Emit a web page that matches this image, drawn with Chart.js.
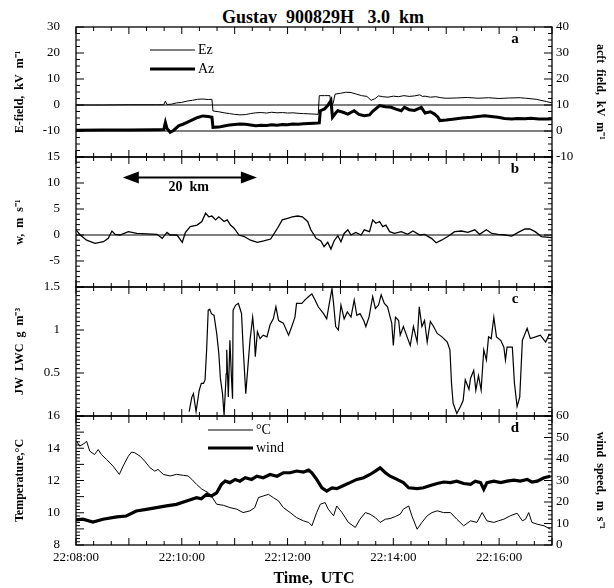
<!DOCTYPE html>
<html>
<head>
<meta charset="utf-8">
<script src="https://cdn.jsdelivr.net/npm/chart.js"></script>
<style>
  html, body { margin: 0; padding: 0; background: #fff; }
  #page { position: relative; width: 614px; height: 588px; overflow: hidden; background: #fff; }
  .panel { position: absolute; left: 0; width: 614px; }
  #title {
    position: absolute; left: 0; top: 7px; width: 646px; text-align: center;
    font: bold 18px "Liberation Serif", serif; white-space: pre; line-height: 20px;
  }
</style>
</head>
<body>
<div id="page">
  <div id="title">Gustav  900829H   3.0  km</div>
  <div class="panel" style="top:0;height:181px"><canvas id="cA"></canvas></div>
  <div class="panel" style="top:133px;height:178px"><canvas id="cB"></canvas></div>
  <div class="panel" style="top:263px;height:177px"><canvas id="cC"></canvas></div>
  <div class="panel" style="top:392px;height:196px"><canvas id="cD"></canvas></div>
</div>
<script>
// time is in minutes after 22:08:00 UTC
const timeTicks = [0, 2, 4, 6, 8];

// panel a: vertical field (left axis) and aircraft field (right axis), kV/m
const ezSeries = [[0,0],[0.5,0],[1.0,0.1],[1.5,0.1],[1.66,0.1],[1.69,1.5],[1.72,0.2],[1.8,0.3],[1.9,0.8],[2.0,1.0],
  [2.1,1.5],[2.2,1.8],[2.3,2.2],[2.4,2.3],[2.5,2.1],[2.57,2.2],[2.59,-2.3],[2.7,-2.6],[2.8,-3.0],[2.9,-3.3],
  [3.0,-3.6],[3.1,-3.8],[3.2,-3.7],[3.3,-3.3],[3.4,-3.0],[3.5,-2.9],[3.6,-3.1],[3.7,-2.8],[3.8,-3.0],[3.9,-2.9],
  [4.0,-3.1],[4.1,-3.0],[4.2,-3.2],[4.3,-3.3],[4.4,-3.4],[4.5,-3.5],[4.58,-3.6],[4.6,3.6],[4.7,3.6],[4.8,3.6],
  [4.82,0.2],[4.86,0.5],[4.9,4.2],[5.0,4.5],[5.1,4.9],[5.2,4.8],[5.3,4.2],[5.4,3.6],[5.5,3.3],[5.58,1.8],
  [5.65,2.4],[5.72,3.5],[5.8,3.2],[5.9,3.0],[6.0,3.4],[6.1,3.2],[6.2,3.6],[6.3,3.3],[6.4,3.5],[6.5,3.9],
  [6.55,3.3],[6.6,3.4],[6.7,3.0],[6.8,3.2],[6.9,2.8],[7.0,2.6],[7.2,2.7],[7.4,2.9],[7.6,2.6],[7.8,2.8],
  [8.0,2.5],[8.2,2.7],[8.4,2.8],[8.5,2.6],[8.7,2.2],[8.9,1.3],[9.0,0.8]];
const azSeries = [[0,0.3],[0.5,0.4],[1.0,0.4],[1.5,0.5],[1.66,0.6],[1.69,3.3],[1.72,1.0],[1.78,-0.5],[1.85,0.3],[1.94,2.0],
  [2.02,2.6],[2.1,3.3],[2.2,4.3],[2.3,5.2],[2.4,5.8],[2.5,5.6],[2.57,5.3],[2.59,1.4],[2.7,1.5],[2.8,1.9],
  [2.9,2.3],[3.0,2.5],[3.1,2.7],[3.2,2.6],[3.3,2.3],[3.4,2.0],[3.5,2.2],[3.6,2.1],[3.7,2.4],[3.8,2.2],
  [3.9,2.5],[4.0,2.4],[4.1,2.7],[4.2,2.6],[4.3,2.8],[4.4,2.9],[4.5,3.0],[4.6,3.1],[4.62,7.8],[4.7,8.5],
  [4.76,9.8],[4.82,11.7],[4.85,5.3],[4.91,6.9],[4.95,7.8],[5.05,7.2],[5.14,6.5],[5.26,7.8],[5.35,6.4],[5.45,5.9],
  [5.55,6.2],[5.61,7.6],[5.74,9.8],[5.85,9.3],[5.96,9.1],[6.05,8.4],[6.15,7.8],[6.21,9.1],[6.3,8.2],[6.4,7.9],
  [6.53,9.1],[6.6,6.9],[6.7,7.4],[6.78,6.5],[6.84,5.4],[6.88,4.0],[7.0,4.2],[7.16,4.6],[7.3,5.0],[7.48,5.3],
  [7.6,5.6],[7.73,5.9],[7.85,5.6],[7.98,5.25],[8.1,4.8],[8.24,4.6],[8.35,4.8],[8.49,4.7],[8.6,4.9],[8.75,4.6],
  [8.93,4.6],[9.0,4.7]];

// panel b: vertical wind w, m/s
const wSeries = [[0,1.0],[0.08,0],[0.20,-1.0],[0.36,-1.6],[0.52,-1.3],[0.61,-0.64],[0.68,0.77],[0.74,0.13],[0.83,0],[0.99,0.64],
  [1.15,0.3],[1.34,0.2],[1.53,0.13],[1.63,-0.64],[1.72,0.5],[1.78,0],[1.91,0],[2.01,-1.4],[2.07,0.5],[2.16,1.6],
  [2.29,1.9],[2.38,2.6],[2.45,4.2],[2.51,3.5],[2.57,3.65],[2.64,2.9],[2.70,3.5],[2.80,2.6],[2.86,2.9],[2.92,1.9],
  [2.99,1.3],[3.08,0],[3.18,-0.3],[3.30,-1.0],[3.43,-1.4],[3.55,-1.15],[3.68,-0.77],[3.81,1.3],[3.90,2.9],[4.00,3.2],
  [4.09,3.5],[4.19,3.65],[4.28,3.5],[4.38,2.6],[4.44,1.0],[4.54,-0.64],[4.63,-1.15],[4.69,-2.24],[4.76,-1.4],[4.82,-2.7],
  [4.88,-1.15],[4.95,-0.13],[5.01,-1.3],[5.07,0.3],[5.14,1.0],[5.20,0],[5.29,0.5],[5.39,0],[5.45,1.0],[5.55,0.64],
  [5.61,2.9],[5.67,2.25],[5.74,2.6],[5.80,1.6],[5.86,1.9],[5.93,0.64],[6.02,0.3],[6.15,0.64],[6.27,0.13],[6.37,0.77],
  [6.50,0],[6.59,0.13],[6.72,-0.64],[6.81,-1.5],[6.91,-1.0],[7.03,-0.3],[7.16,0.64],[7.29,0.77],[7.41,0.5],[7.54,1.0],
  [7.63,0.13],[7.76,1.0],[7.86,0.3],[7.98,0.13],[8.11,0],[8.24,-0.2],[8.36,0.5],[8.49,1.15],[8.58,1.15],[8.68,0.64],
  [8.80,-0.3],[9.0,-0.5]];

// panel c: Johnson-Williams liquid water content, g/m3
const lwcSeries = [[2.14,0.05],[2.19,0.22],[2.22,0.26],[2.27,0.05],[2.33,0.30],[2.37,0.38],[2.41,0.38],[2.44,0.42],[2.47,0.77],[2.50,1.23],
  [2.53,1.24],[2.56,1.19],[2.61,1.17],[2.66,0.96],[2.70,0.73],[2.73,0.44],[2.77,0.26],[2.80,0.01],[2.84,0.49],[2.85,0.77],
  [2.88,0.22],[2.91,0.88],[2.94,0.44],[2.96,0.20],[2.97,1.23],[3.02,1.29],[3.07,1.31],[3.10,1.25],[3.13,1.19],[3.16,0.80],
  [3.21,0.26],[3.26,0.65],[3.29,0.88],[3.34,1.15],[3.37,0.96],[3.39,0.69],[3.43,0.98],[3.48,0.90],[3.54,0.94],[3.61,0.92],
  [3.67,1.06],[3.73,1.13],[3.78,1.27],[3.83,1.11],[3.92,1.08],[4.02,0.94],[4.08,1.04],[4.14,1.15],[4.17,1.31],[4.27,1.31],
  [4.33,1.35],[4.40,1.39],[4.46,1.42],[4.52,1.35],[4.58,1.27],[4.68,1.19],[4.74,1.13],[4.79,1.31],[4.84,1.48],[4.87,1.31],
  [4.91,1.04],[4.96,1.0],[5.01,1.29],[5.07,1.13],[5.13,1.21],[5.20,1.15],[5.26,1.35],[5.31,1.17],[5.37,1.19],[5.44,1.11],
  [5.48,1.04],[5.54,1.15],[5.61,1.39],[5.66,1.25],[5.72,1.29],[5.77,1.41],[5.83,1.31],[5.89,1.27],[5.94,1.15],[5.97,1.08],
  [6.00,0.82],[6.04,1.15],[6.10,1.11],[6.13,0.94],[6.19,1.04],[6.26,0.92],[6.32,0.82],[6.38,1.04],[6.45,0.86],[6.49,1.27],
  [6.54,1.04],[6.59,1.11],[6.64,0.86],[6.70,1.10],[6.76,1.04],[6.83,0.96],[6.92,0.92],[7.02,0.86],[7.07,0.77],[7.10,0.38],
  [7.13,0.15],[7.20,0.03],[7.27,0.11],[7.32,0.18],[7.36,0.42],[7.43,0.31],[7.46,0.44],[7.52,0.53],[7.56,0.30],[7.61,0.47],
  [7.66,0.30],[7.71,0.77],[7.76,0.65],[7.80,0.92],[7.85,0.90],[7.90,1.15],[7.95,0.92],[8.03,0.88],[8.09,0.80],[8.12,0.65],
  [8.15,0.80],[8.25,0.80],[8.29,0.38],[8.34,0.11],[8.39,0.22],[8.44,0.88],[8.53,1.02],[8.59,0.90],[8.69,0.92],[8.78,0.94],
  [8.88,0.86],[8.94,0.94],[8.98,0.94]];

// panel d: temperature (left axis, deg C) and wind speed (right axis, m/s)
const tempSeries = [[0.01,14.44],[0.07,14.13],[0.17,14.33],[0.20,14.44],[0.26,13.82],[0.35,13.61],[0.42,13.92],[0.48,13.61],[0.58,13.30],[0.70,12.89],
  [0.82,12.38],[0.89,12.89],[0.99,13.51],[1.05,13.76],[1.11,13.72],[1.21,13.51],[1.30,13.20],[1.40,12.79],[1.49,12.58],[1.55,12.69],
  [1.65,12.38],[1.78,12.28],[1.90,12.38],[2.03,12.32],[2.12,12.28],[2.19,12.07],[2.28,11.76],[2.37,11.49],[2.44,11.35],[2.50,11.25],
  [2.56,11.04],[2.66,10.53],[2.79,10.46],[2.91,10.32],[3.04,10.22],[3.16,10.01],[3.29,10.12],[3.38,10.32],[3.45,10.94],[3.54,11.04],
  [3.64,11.14],[3.73,10.94],[3.83,10.73],[3.92,10.32],[4.05,10.01],[4.17,9.70],[4.30,9.50],[4.40,9.40],[4.46,9.19],[4.55,10.01],
  [4.62,10.53],[4.71,10.63],[4.77,10.22],[4.87,9.81],[4.93,10.42],[5.03,10.01],[5.15,9.40],[5.28,9.09],[5.37,9.60],[5.47,10.01],
  [5.56,9.91],[5.66,9.70],[5.75,9.40],[5.85,9.60],[5.94,9.64],[6.04,9.77],[6.13,9.91],[6.19,10.22],[6.29,10.42],[6.35,9.81],
  [6.45,8.98],[6.54,9.40],[6.64,9.81],[6.73,10.01],[6.83,10.12],[6.95,10.01],[7.08,10.01],[7.20,9.60],[7.33,9.19],[7.46,9.50],
  [7.58,9.40],[7.68,10.01],[7.77,9.50],[7.90,9.40],[7.99,9.50],[8.09,9.60],[8.21,9.81],[8.34,9.97],[8.44,9.50],[8.50,9.60],
  [8.56,10.01],[8.62,9.40],[8.72,9.29],[8.85,9.19],[8.97,8.98]];
const windSeries = [[0,11.7],[0.13,12.0],[0.32,10.7],[0.51,12.0],[0.77,13.1],[0.95,13.5],[1.14,15.8],[1.33,16.6],[1.52,17.4],[1.71,18.2],
  [1.90,18.9],[2.09,20.5],[2.28,22.0],[2.37,21.5],[2.47,23.6],[2.56,22.8],[2.66,24.3],[2.75,28.2],[2.82,29.7],[2.91,29.0],
  [3.01,30.5],[3.10,29.7],[3.20,31.3],[3.32,30.5],[3.42,32.0],[3.54,31.3],[3.67,32.8],[3.80,32.0],[3.92,33.6],[4.05,33.6],
  [4.17,34.4],[4.30,33.9],[4.40,34.8],[4.46,33.6],[4.55,30.5],[4.65,26.6],[4.74,25.1],[4.84,26.6],[4.93,26.2],[5.06,27.7],
  [5.18,29.0],[5.31,30.5],[5.44,31.3],[5.56,32.8],[5.66,34.4],[5.75,35.9],[5.85,33.6],[5.94,32.0],[6.07,30.5],[6.19,29.0],
  [6.29,26.6],[6.45,26.2],[6.57,26.6],[6.70,27.7],[6.83,28.6],[6.95,29.3],[7.08,29.0],[7.20,29.7],[7.33,28.6],[7.46,28.2],
  [7.55,29.7],[7.65,29.0],[7.71,25.9],[7.77,29.0],[7.90,29.7],[8.03,29.0],[8.15,29.7],[8.28,30.2],[8.40,29.7],[8.53,30.5],
  [8.62,29.3],[8.72,29.7],[8.85,31.3],[8.97,32.0]];

const X_MAX = 9;
const serif = '"Liberation Serif", "Times New Roman", serif';
Chart.defaults.font.family = serif;
Chart.defaults.color = '#000';

function pts(series) {
  return series.map(p => ({ x: p[0], y: p[1] }));
}

function clock(t) {
  return '22:' + String(8 + t).padStart(2, '0') + ':00';
}

function line(ds, width) {
  return Object.assign({ borderColor: '#000', borderWidth: width, pointRadius: 0, tension: 0, fill: false }, ds);
}

function xHidden() {
  return { type: 'linear', min: 0, max: X_MAX, display: false };
}

function leftAxis(min, max, step, title, hide) {
  return {
    type: 'linear', position: 'left', min: min, max: max,
    grid: { display: false, drawTicks: false },
    border: { display: false },
    ticks: {
      stepSize: step, padding: 16, font: { size: 13 }, color: '#000',
      callback: v => (hide.includes(v) ? null : String(v))
    },
    title: { display: true, text: title, font: { size: 12, weight: 'bold' }, color: '#000', padding: { top: 13, bottom: 0 } },
    afterFit(s) { s.width = 76; }
  };
}

function rightAxis(min, max, step, title) {
  return {
    type: 'linear', position: 'right', min: min, max: max,
    grid: { display: false, drawTicks: false },
    border: { display: false },
    ticks: { stepSize: step, padding: 4, font: { size: 13 }, color: '#000' },
    title: { display: true, text: title, font: { size: 12, weight: 'bold' }, color: '#000', padding: { top: 7, bottom: 0 } },
    afterFit(s) { s.width = 62; }
  };
}

// frame, inward ticks, panel letter, inline legend and notes
function framePlugin(cfg) {
  return {
    id: 'frame',
    afterDatasetsDraw(chart) {
      const ctx = chart.ctx, a = chart.chartArea, x = chart.scales.x;
      const seg = (x1, y1, x2, y2) => { ctx.beginPath(); ctx.moveTo(x1, y1); ctx.lineTo(x2, y2); ctx.stroke(); };
      ctx.save();
      ctx.strokeStyle = '#000';
      ctx.fillStyle = '#000';
      ctx.lineWidth = 1;

      (cfg.refLines || []).forEach(r => {
        const py = chart.scales[r.axis].getPixelForValue(r.value);
        seg(a.left, py, a.right, py);
      });

      ctx.lineWidth = 1.3;
      ctx.strokeRect(a.left, a.top, a.right - a.left, a.bottom - a.top);

      ctx.lineWidth = 1;
      const n = Math.round(x.max * 3);
      for (let i = 0; i <= n; i++) {
        const px = x.getPixelForValue(i / 3);
        const len = i % 3 === 0 ? 7 : 4;
        seg(px, a.top, px, a.top + len);
        seg(px, a.bottom, px, a.bottom - len);
      }

      const yTicks = (scale, minor, major, side) => {
        const k = Math.round((scale.max - scale.min) / minor);
        for (let i = 0; i <= k; i++) {
          const v = scale.min + i * minor;
          const isMajor = Math.abs(v / major - Math.round(v / major)) < 1e-6;
          const py = scale.getPixelForValue(v);
          const len = isMajor ? 8 : 4;
          if (side !== 'right') seg(a.left, py, a.left + len, py);
          if (side !== 'left') seg(a.right, py, a.right - len, py);
        }
      };
      if (cfg.right) {
        yTicks(chart.scales.y, cfg.yMinor, cfg.yMajor, 'left');
        yTicks(chart.scales.y2, cfg.right.minor, cfg.right.major, 'right');
      } else {
        yTicks(chart.scales.y, cfg.yMinor, cfg.yMajor, 'both');
      }

      ctx.font = 'bold 15px ' + serif;
      ctx.textAlign = 'center';
      ctx.textBaseline = 'middle';
      ctx.fillText(cfg.letter, a.right - 37, a.top + 12);

      (cfg.legend || []).forEach(item => {
        const ds = chart.data.datasets[item.ds];
        ctx.lineWidth = ds.borderWidth;
        seg(a.left + item.dx, a.top + item.dy, a.left + item.dx + 45, a.top + item.dy);
        ctx.font = '14px ' + serif;
        ctx.textAlign = 'left';
        ctx.fillText(ds.label, a.left + item.dx + 48, a.top + item.dy);
      });

      if (cfg.arrow) {
        const ar = cfg.arrow, y = chart.scales.y;
        const x1 = x.getPixelForValue(ar.from), x2 = x.getPixelForValue(ar.to), py = y.getPixelForValue(ar.y);
        ctx.lineWidth = 2;
        seg(x1 + 12, py, x2 - 12, py);
        ctx.beginPath();
        ctx.moveTo(x1, py); ctx.lineTo(x1 + 16, py - 6); ctx.lineTo(x1 + 16, py + 6); ctx.closePath();
        ctx.moveTo(x2, py); ctx.lineTo(x2 - 16, py - 6); ctx.lineTo(x2 - 16, py + 6); ctx.closePath();
        ctx.fill();
        ctx.font = 'bold 14px ' + serif;
        ctx.textAlign = 'center';
        ctx.fillText(ar.text, x.getPixelForValue(ar.textX), y.getPixelForValue(ar.textY));
      }
      ctx.restore();
    }
  };
}

function baseOptions(extra) {
  return Object.assign({
    responsive: true,
    maintainAspectRatio: false,
    animation: false,
    events: [],
    plugins: { legend: { display: false }, tooltip: { enabled: false } }
  }, extra);
}

// tick label padding adds to the vertical room an axis asks for,
// so every panel gets 24 px of layout padding above and below
new Chart(document.getElementById('cA'), {
  type: 'line',
  data: { datasets: [
    line({ label: 'Ez', data: pts(ezSeries), yAxisID: 'y' }, 1),
    line({ label: 'Az', data: pts(azSeries), yAxisID: 'y2' }, 3)
  ] },
  options: baseOptions({
    layout: { padding: { top: 27, bottom: 24, left: 0, right: 0 } },
    scales: {
      x: xHidden(),
      y: leftAxis(-20, 30, 10, 'E-field,  kV  m\u207B\u00B9', [-20]),
      y2: rightAxis(-10, 40, 10, 'acft  field,  kV  m\u207B\u00B9')
    }
  }),
  plugins: [framePlugin({
    yMinor: 2.5, yMajor: 10, right: { minor: 2.5, major: 10 }, letter: 'a',
    refLines: [{ axis: 'y', value: 0 }, { axis: 'y2', value: 0 }],
    legend: [{ ds: 0, dx: 74, dy: 23 }, { ds: 1, dx: 74, dy: 42 }]
  })]
});

new Chart(document.getElementById('cB'), {
  type: 'line',
  data: { datasets: [line({ label: 'w', data: pts(wSeries) }, 1.3)] },
  options: baseOptions({
    layout: { padding: { top: 24, bottom: 24, left: 0, right: 62 } },
    scales: {
      x: xHidden(),
      y: leftAxis(-10, 15, 5, 'w,  m  s\u207B\u00B9', [-10])
    }
  }),
  plugins: [framePlugin({
    yMinor: 1, yMajor: 5, letter: 'b',
    refLines: [{ axis: 'y', value: 0 }],
    arrow: { from: 0.885, to: 3.42, y: 11.07, text: '20  km', textX: 2.13, textY: 9.07 }
  })]
});

new Chart(document.getElementById('cC'), {
  type: 'line',
  data: { datasets: [line({ label: 'LWC', data: pts(lwcSeries) }, 1.2)] },
  options: baseOptions({
    layout: { padding: { top: 24, bottom: 24, left: 0, right: 62 } },
    scales: {
      x: xHidden(),
      y: leftAxis(0, 1.5, 0.5, 'JW  LWC  g  m\u207B\u00B3', [0])
    }
  }),
  plugins: [framePlugin({ yMinor: 0.05, yMajor: 0.5, letter: 'c' })]
});

new Chart(document.getElementById('cD'), {
  type: 'line',
  data: { datasets: [
    line({ label: '\u00B0C', data: pts(tempSeries), yAxisID: 'y' }, 1),
    line({ label: 'wind', data: pts(windSeries), yAxisID: 'y2' }, 3.2)
  ] },
  options: baseOptions({
    layout: { padding: { top: 24, bottom: 0, left: 0, right: 0 } },
    scales: {
      x: {
        type: 'linear', min: 0, max: X_MAX,
        grid: { display: false, drawTicks: false },
        border: { display: false },
        ticks: {
          stepSize: 2, padding: 5, autoSkip: false, maxRotation: 0, font: { size: 13 }, color: '#000',
          callback: v => (timeTicks.includes(v) ? clock(v) : null)
        },
        title: { display: true, text: 'Time,  UTC', font: { size: 16, weight: 'bold' }, color: '#000', padding: { top: 0, bottom: 0 } },
        afterFit(s) { s.height = 43; }
      },
      y: leftAxis(8, 16, 1, 'Temperature,\u00B0C', []),
      y2: rightAxis(0, 60, 10, 'wind  speed,  m  s\u207B\u00B9')
    }
  }),
  plugins: [framePlugin({
    yMinor: 0.2, yMajor: 1, right: { minor: 2, major: 10 }, letter: 'd',
    legend: [{ ds: 0, dx: 132, dy: 14 }, { ds: 1, dx: 132, dy: 32 }]
  })]
});
</script>
</body>
</html>
